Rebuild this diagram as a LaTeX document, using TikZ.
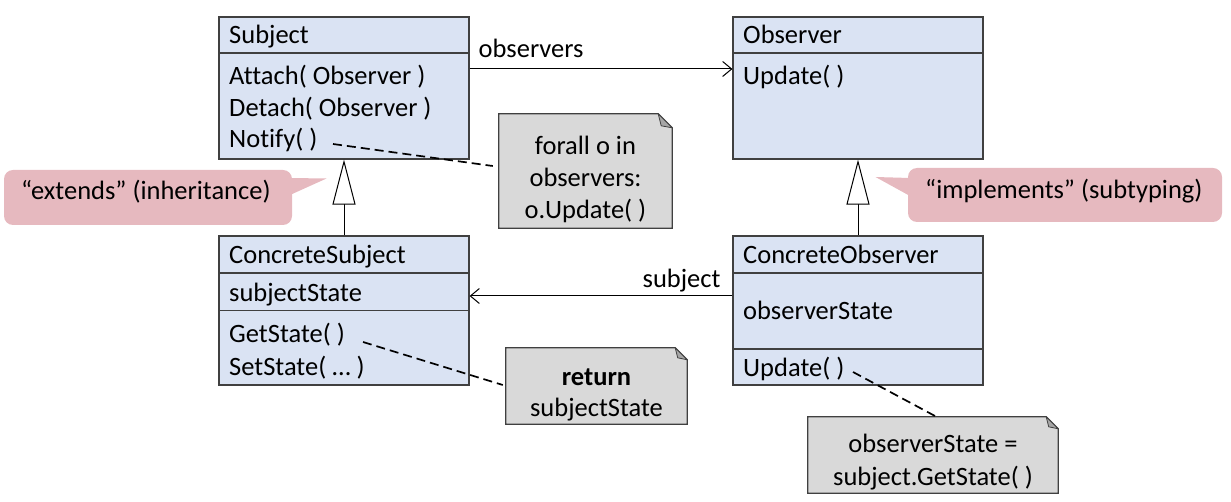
\documentclass[tikz,border=0pt]{standalone}
\usepackage{fontspec}
\setmainfont[Ligatures=NoCommon]{Carlito}
\usetikzlibrary{arrows.meta}
\definecolor{boxblue}{HTML}{DAE3F3}
\definecolor{boxline}{HTML}{404040}
\definecolor{notegray}{HTML}{D9D9D9}
\definecolor{foldgray}{HTML}{A6A6A6}
\definecolor{calloutpink}{HTML}{E6B9BF}
\begin{document}
\begin{tikzpicture}[x=1pt,y=-1pt,
  classbox/.style={rectangle,draw=boxline,fill=boxblue,line width=1.2pt,minimum width=250pt,inner sep=0pt},
  divider/.style={draw=boxline,line width=1.2pt},
  txt/.style={anchor=base west,inner sep=0pt,font=\fontsize{26.5}{32}\selectfont},
  ctxt/.style={anchor=base,inner sep=0pt,font=\fontsize{26.5}{32}\selectfont},
  notebox/.style={rectangle,inner sep=0pt},
  noteline/.style={draw=boxline,fill=notegray,line width=1.2pt},
  notefold/.style={draw=boxline,fill=foldgray,line width=0.8pt,line join=round},
  assoc/.style={draw=black,line width=1pt,-{Straight Barb[length=9pt,width=15pt,line width=1pt]}},
  inherit/.style={draw=black,line width=1pt,-{Triangle[open,fill=white,length=45pt,width=23pt,line width=1pt]}},
  dashline/.style={draw=black,line width=1.7pt,dash pattern=on 9pt off 5pt},
  callout/.style={fill=calloutpink}
]
\useasboundingbox (0,0) rectangle (1231,502);

% ---------- callouts ----------
\fill[callout,rounded corners=9pt] (4,170) rectangle (292,225);
\fill[callout] (290,178) -- (326.5,178.5) -- (290,195) -- cycle;
\node[txt] (lext) at (21,200) {“extends” (inheritance)};

\fill[callout,rounded corners=9pt] (908,168) rectangle (1222,222);
\fill[callout] (910,178) -- (875.5,177) -- (910,196) -- cycle;
\node[txt] (limp) at (925,199) {“implements” (subtyping)};

% ---------- class boxes ----------
\node[classbox,minimum height=142pt] (subject) at (344,88) {};
\draw[divider] (subject.west |- 0,53) -- (subject.east |- 0,53);
\node[txt] (lsubj) at (229,44) {Subject};
\node[txt] (lattach) at (229,84.5) {Attach( Observer )};
\node[txt] (ldetach) at (229,116.5) {Detach( Observer )};
\node[txt] (lnotify) at (229,148) {Notify( )};

\node[classbox,minimum height=142pt] (observer) at (858,88) {};
\draw[divider] (observer.west |- 0,53) -- (observer.east |- 0,53);
\node[txt] (lobsv) at (743,44) {Observer};
\node[txt] (lupd) at (743,85) {Update( )};

\node[classbox,minimum height=149pt] (csub) at (344,310.5) {};
\draw[divider] (csub.west |- 0,273) -- (csub.east |- 0,273);
\draw[divider] (csub.west |- 0,310.5) -- (csub.east |- 0,310.5);
\node[txt] (lcsub) at (229,264) {ConcreteSubject};
\node[txt] (lsstate) at (229,302) {subjectState};
\node[txt] (lget) at (229,343) {GetState( )};
\node[txt] (lset) at (229,375) {SetState( … )};

\node[classbox,minimum height=149pt] (cobs) at (858,310.5) {};
\draw[divider] (cobs.west |- 0,273) -- (cobs.east |- 0,273);
\draw[divider] (cobs.west |- 0,349) -- (cobs.east |- 0,349);
\node[txt] (lcobs) at (743,264) {ConcreteObserver};
\node[txt] (lostate) at (743,320) {observerState};
\node[txt] (lcupd) at (743,377) {Update( )};

% ---------- notes ----------
\node[notebox,minimum width=173pt,minimum height=114pt] (n1) at (585.5,171) {};
\draw[noteline] (n1.south west) -- (n1.north west) -- ([xshift=-14pt]n1.north east)
  -- ([yshift=-14pt]n1.north east) -- (n1.south east) -- cycle;
\draw[notefold] ([xshift=-14pt]n1.north east) -- ([yshift=-14pt]n1.north east)
  -- ([xshift=-11pt,yshift=-12pt]n1.north east) -- cycle;
\node[ctxt] (n1a) at (585.5,155) {forall o in};
\node[ctxt] (n1b) at (585.5,187) {observers:};
\node[ctxt] (n1c) at (585.5,219) {o.Update( )};

\node[notebox,minimum width=181pt,minimum height=76pt] (n2) at (596.5,386) {};
\draw[noteline] (n2.south west) -- (n2.north west) -- ([xshift=-12pt]n2.north east)
  -- ([yshift=-12pt]n2.north east) -- (n2.south east) -- cycle;
\draw[notefold] ([xshift=-12pt]n2.north east) -- ([yshift=-12pt]n2.north east)
  -- ([xshift=-9.5pt,yshift=-10pt]n2.north east) -- cycle;
\node[ctxt] (n2a) at (596.5,385.5) {\textbf{return}};
\node[ctxt] (n2b) at (596.5,416.5) {subjectState};

\node[notebox,minimum width=250pt,minimum height=76pt] (n3) at (933,455) {};
\draw[noteline] (n3.south west) -- (n3.north west) -- ([xshift=-12pt]n3.north east)
  -- ([yshift=-12pt]n3.north east) -- (n3.south east) -- cycle;
\draw[notefold] ([xshift=-12pt]n3.north east) -- ([yshift=-12pt]n3.north east)
  -- ([xshift=-9.5pt,yshift=-10pt]n3.north east) -- cycle;
\node[ctxt] (n3a) at (933,452.5) {observerState =};
\node[ctxt] (n3b) at (933,485) {subject.GetState( )};

% ---------- connectors ----------
\draw[assoc] (subject.east |- 0,69) -- (observer.west |- 0,69);
\node[txt] (lobservers) at (478.5,58) {observers};
\draw[assoc] (cobs.west |- 0,296) -- (csub.east |- 0,296);
\node[txt] (lsubject) at (642.5,288) {subject};

\draw[inherit] (csub.north) -- (subject.south);
\draw[inherit] (cobs.north) -- (observer.south);

\coordinate (d1s) at (333,144);
\coordinate (d1e) at ([xshift=-6pt]n1.west |- 0,166);
\draw[dashline] (d1s) -- (d1e);
\coordinate (d2s) at (363,342);
\coordinate (d2e) at ([xshift=-3pt]n2.west |- 0,385);
\draw[dashline] (d2s) -- (d2e);
\coordinate (d3s) at (853,372);
\coordinate (d3e) at (935,416);
\draw[dashline] (d3s) -- (d3e);
\end{tikzpicture}
\end{document}
